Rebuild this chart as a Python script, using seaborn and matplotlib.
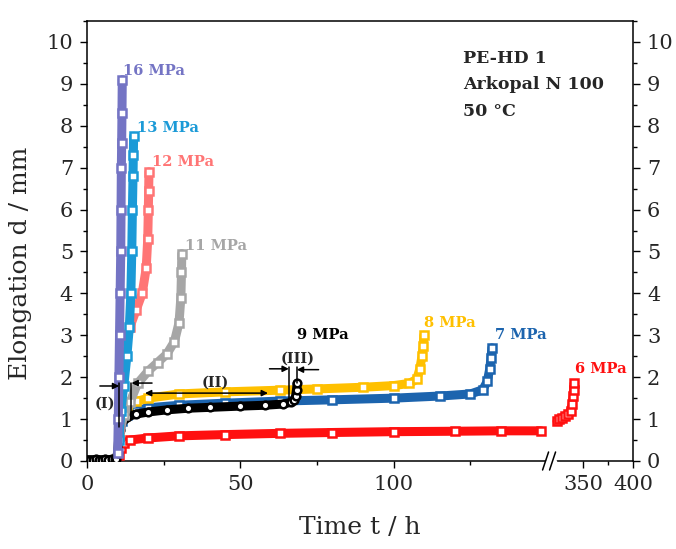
import numpy as np
import matplotlib
matplotlib.use("Agg")
import matplotlib.pyplot as plt
import seaborn as sns
from matplotlib.ticker import FixedLocator, MultipleLocator

# ---- data (time in h, elongation in mm) ----
t16 = [10.0, 10.2, 10.4, 10.6, 10.8, 11.0, 11.1, 11.2, 11.3, 11.4, 11.5]
d16 = [0.2, 1.0, 2.0, 3.0, 4.0, 5.0, 6.0, 7.0, 7.6, 8.3, 9.1]

t13 = [10.5, 11.0, 12.0, 13.0, 13.8, 14.3, 14.6, 14.8, 15.0, 15.1, 15.2]
d13 = [0.5, 1.2, 1.8, 2.5, 3.2, 4.0, 5.0, 6.0, 6.8, 7.3, 7.75]

t12 = [10.5, 11.5, 12.5, 14.0, 16.0, 18.0, 19.3, 19.8, 20.0, 20.1, 20.2]
d12 = [0.8, 1.8, 2.7, 3.2, 3.6, 4.0, 4.6, 5.3, 6.0, 6.45, 6.9]

t11 = [10.5, 12.0, 14.0, 16.5, 20.0, 23.0, 26.0, 28.5, 30.0, 30.6, 30.8, 30.9]
d11 = [0.6, 1.1, 1.4, 1.85, 2.15, 2.35, 2.55, 2.85, 3.3, 3.9, 4.5, 4.95]

t9 = [0, 1, 2, 3, 4, 5, 6, 7, 8, 9, 9.5, 10.0, 10.3, 10.6, 11.0, 12.0, 13.0, 16.0,
      20.0, 26.0, 33.0, 40.0, 50.0, 58.0, 64.0, 66.5, 67.5, 68.0, 68.3, 68.5]
d9 = [0.03, 0.03, 0.03, 0.04, 0.03, 0.03, 0.04, 0.03, 0.04, 0.04, 0.05, 0.2, 0.5, 0.75,
      0.9, 1.0, 1.05, 1.12, 1.17, 1.22, 1.26, 1.28, 1.31, 1.33, 1.36, 1.4, 1.45,
      1.55, 1.7, 1.85]

t8 = [10.5, 11.5, 13.0, 16.0, 20.0, 30.0, 45.0, 63.0, 75.0, 90.0, 100.0, 105.0,
      107.5, 108.5, 109.2, 109.6, 109.8]
d8 = [0.7, 1.1, 1.3, 1.42, 1.5, 1.6, 1.65, 1.69, 1.72, 1.76, 1.8, 1.85,
      1.95, 2.2, 2.5, 2.75, 3.0]

t7 = [10.5, 11.5, 13.0, 16.0, 20.0, 30.0, 45.0, 63.0, 80.0, 100.0, 115.0, 125.0,
      129.0, 130.5, 131.3, 131.7, 132.0]
d7 = [0.6, 0.95, 1.1, 1.2, 1.27, 1.33, 1.38, 1.43, 1.46, 1.5, 1.55, 1.6,
      1.7, 1.9, 2.2, 2.45, 2.7]

t6a = [10.5, 11.0, 12.0, 14.0, 20.0, 30.0, 45.0, 63.0, 80.0, 100.0, 120.0, 135.0, 148.0]
d6a = [0.15, 0.3, 0.42, 0.5, 0.55, 0.6, 0.63, 0.66, 0.68, 0.7, 0.71, 0.72, 0.72]
t6b = [324, 326, 329, 332, 335, 337.5, 339, 340, 340.5, 341]
d6b = [0.95, 1.0, 1.03, 1.07, 1.12, 1.2, 1.35, 1.55, 1.7, 1.85]

series = [  # (times, values, colour, marker)
    (t6a, d6a, "#FF1010", "s"),
    (t6b, d6b, "#FF1010", "s"),
    (t7, d7, "#1C64AE", "s"),
    (t8, d8, "#FFC000", "s"),
    (t9, d9, "black", "o"),
    (t11, d11, "#A6A6A6", "s"),
    (t12, d12, "#FF7575", "s"),
    (t13, d13, "#1B9AD7", "s"),
    (t16, d16, "#7474C4", "s"),
]

labels = [  # text, t, d, colour
    ("16 MPa", 11.7, 9.3, "#7474C4"),
    ("13 MPa", 16.3, 7.95, "#1B9AD7"),
    ("12 MPa", 21.2, 7.14, "#FF7575"),
    ("11 MPa", 31.9, 5.13, "#A6A6A6"),
    ("9 MPa", 68.4, 3.0, "black"),
    ("8 MPa", 110.0, 3.3, "#FFC000"),
    ("7 MPa", 132.9, 3.0, "#1C64AE"),
    ("6 MPa", 342.0, 2.2, "#FF1010"),
]

x_major = [0, 50, 100, 350, 400]
x_minor = [25, 75, 125, 375]

# ---- broken x axis as one piecewise-linear scale ----
BRK_L, BRK_R = 150.8, 317.0
R = 1 / 3.07
EPS = 1e-3
G = (BRK_R - BRK_L) * EPS


def fwd(t):
    t = np.asarray(t, dtype=float)
    return np.where(t <= BRK_L, t,
                    np.where(t < BRK_R, BRK_L + (t - BRK_L) * EPS,
                             BRK_L + G + (t - BRK_R) * R))


def inv(u):
    u = np.asarray(u, dtype=float)
    return np.where(u <= BRK_L, u,
                    np.where(u < BRK_L + G, BRK_L + (u - BRK_L) / EPS,
                             BRK_R + (u - BRK_L - G) / R))


sns.set_style("ticks")
plt.rcParams["font.family"] = ["DejaVu Serif"]
plt.rcParams["mathtext.fontset"] = "dejavuserif"

fig = plt.figure(figsize=(6.76, 5.49), dpi=100)
ax = fig.add_axes([0.1287, 0.1603, 0.8077, 0.8014])
ax.set_xscale("function", functions=(fwd, inv))

for tt, dd, col, mk in series:
    sns.lineplot(x=tt, y=dd, ax=ax, color=col, lw=6.5, sort=False, estimator=None,
                 marker=mk, ms=5.5, mfc="white", mec=col, mew=1.8, zorder=3)

for txt, tx, ty, col in labels:
    ax.text(tx, ty, txt, color=col, fontsize=10.5, fontweight="bold",
            ha="left", va="center", zorder=5)

ax.text(0.689, 0.935, "PE-HD 1\nArkopal N 100\n50 °C", transform=ax.transAxes,
        fontsize=12.5, fontweight="bold", ha="left", va="top", linespacing=1.75)

# ---- phase annotations (I), (II), (III) ----
arr = dict(arrowstyle="-|>", color="black", lw=1.1, mutation_scale=9, shrinkA=0, shrinkB=0)
ax.plot([10.5, 10.5], [0.8, 1.86], color="black", lw=1.1, zorder=6)
ax.plot([14.5, 14.5], [1.17, 1.86], color="black", lw=1.1, zorder=6)
ax.annotate("", xy=(10.5, 1.79), xytext=(4.2, 1.79), arrowprops=arr, zorder=6)
ax.annotate("", xy=(14.5, 1.86), xytext=(21.2, 1.86), arrowprops=arr, zorder=6)
ax.text(5.9, 1.38, "(I)", fontsize=10.5, fontweight="bold", ha="center", va="center")

ax.annotate("", xy=(18.9, 1.62), xytext=(59.0, 1.62),
            arrowprops=dict(arrowstyle="<|-|>", color="black", lw=1.1,
                            mutation_scale=9, shrinkA=0, shrinkB=0))
ax.text(41.7, 1.86, "(II)", fontsize=10.5, fontweight="bold", ha="center", va="center")

ax.plot([65.8, 65.8], [1.46, 2.24], color="black", lw=1.1, zorder=6)
ax.plot([68.4, 68.4], [1.86, 2.24], color="black", lw=1.1, zorder=6)
ax.annotate("", xy=(65.8, 2.2), xytext=(59.5, 2.2), arrowprops=arr, zorder=6)
ax.annotate("", xy=(68.4, 2.18), xytext=(75.5, 2.18), arrowprops=arr, zorder=6)
ax.text(68.7, 2.45, "(III)", fontsize=10.5, fontweight="bold", ha="center", va="center")

# ---- axes ----
ax.set_xlim(0, 400)
ax.set_ylim(0, 10.5)
ax.xaxis.set_major_locator(FixedLocator(x_major))
ax.xaxis.set_minor_locator(FixedLocator(x_minor))
ax.set_xticklabels([str(v) for v in x_major])
ax.yaxis.set_major_locator(MultipleLocator(1))
ax.yaxis.set_minor_locator(MultipleLocator(0.5))
ax.tick_params(axis="both", which="major", direction="out", length=5, width=1.0,
               labelsize=15, pad=5, color="black")
ax.tick_params(axis="both", which="minor", direction="out", length=3, width=1.0, color="black")
ax.tick_params(axis="y", which="both", right=True, labelright=True)
for s in ax.spines.values():
    s.set_visible(True)
    s.set_linewidth(1.1)
    s.set_color("black")

ax.set_xlabel("Time t / h", fontsize=18)
ax.set_ylabel("Elongation d / mm", fontsize=18)
ax.xaxis.set_label_coords(0.5, -0.125)
ax.yaxis.set_label_coords(-0.1, 0.45)

# break marks on the x axis
xb = (float(fwd(BRK_L)) - 0) / (float(fwd(400)) - 0)
px = 1 / 546
py = 1 / 440
ax.plot([xb - 3 * px, xb + 5 * px], [0, 0], transform=ax.transAxes, color="white",
        lw=2.5, clip_on=False, zorder=7)
for off in (-4, 3):
    ax.plot([xb + (off - 3) * px, xb + (off + 3) * px], [-9 * py, 9 * py],
            transform=ax.transAxes, color="black", lw=1.1, clip_on=False, zorder=8)

fig.savefig("out.png", dpi=100)
